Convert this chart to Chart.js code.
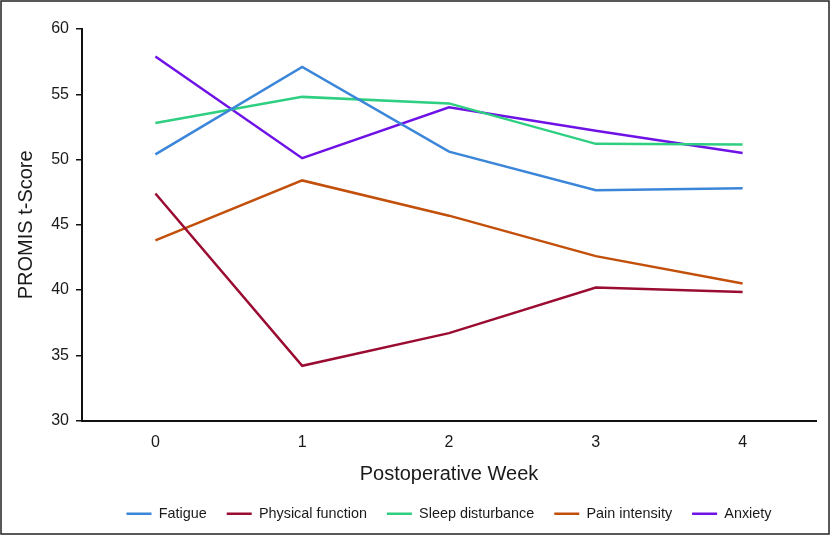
<!DOCTYPE html>
<html>
<head>
<meta charset="utf-8">
<style>
  html, body { margin: 0; padding: 0; background: #fff; }
  #wrap { width: 830px; height: 535px; position: relative; }
</style>
<script src="https://cdn.jsdelivr.net/npm/chart.js@4"></script>
</head>
<body>
<div id="wrap"><canvas id="chart" width="830" height="535"></canvas></div>
<script>
// ===== Data =====
const weeks = ['0', '1', '2', '3', '4'];
const fatigue = [50.4, 57.1, 50.6, 47.65, 47.8];
const physicalFunction = [47.4, 34.2, 36.7, 40.2, 39.85];
const sleepDisturbance = [52.8, 54.8, 54.3, 51.2, 51.15];
const painIntensity = [43.8, 48.4, 45.7, 42.6, 40.5];
const anxiety = [57.9, 50.1, 54.0, 52.2, 50.5];
const yTicks = [30, 35, 40, 45, 50, 55, 60];

const textColor = '#1a1a1a';
const fontFamily = "'Liberation Sans', Arial, sans-serif";

function series(label, data, color) {
  return {
    label: label,
    data: data,
    borderColor: color,
    backgroundColor: color,
    borderWidth: 2.5,
    pointRadius: 0,
    pointHoverRadius: 0,
    tension: 0,
    fill: false
  };
}

// ===== Outer frame + legend centred under the plot =====
const framePlugin = {
  id: 'frame',
  afterLayout(chart) {
    const shift = (chart.chartArea.left + chart.chartArea.right) / 2 - (chart.legend.left + chart.legend.right) / 2;
    chart.legend.left += shift;
    chart.legend.right += shift;
  },
  afterDraw(chart) {
    const c = chart.ctx;
    c.save();
    c.strokeStyle = '#222';
    c.lineWidth = 1.5;
    c.strokeRect(1, 1, chart.width - 2, chart.height - 2);
    c.restore();
  }
};

new Chart(document.getElementById('chart'), {
  type: 'line',
  data: {
    labels: weeks,
    datasets: [
      series('Fatigue', fatigue, '#3b86d9'),
      series('Physical function', physicalFunction, '#9a0c31'),
      series('Sleep disturbance', sleepDisturbance, '#2fcf82'),
      series('Pain intensity', painIntensity, '#c2500b'),
      series('Anxiety', anxiety, '#6f12e6')
    ]
  },
  plugins: [framePlugin],
  options: {
    responsive: false,
    animation: false,
    layout: { padding: { top: 29, right: 14, left: 0, bottom: 4 } },
    plugins: {
      tooltip: { enabled: false },
      legend: {
        position: 'bottom',
        labels: {
          usePointStyle: true,
          pointStyle: 'line',
          pointStyleWidth: 25,
          boxHeight: 14,
          padding: 20,
          color: textColor,
          font: { family: fontFamily, size: 14.4 }
        }
      }
    },
    scales: {
      x: {
        offset: true,
        grid: { display: false, drawTicks: false },
        border: { display: true, color: '#111', width: 2 },
        ticks: { color: textColor, padding: 12, font: { family: fontFamily, size: 16 } },
        title: {
          display: true,
          text: 'Postoperative Week',
          color: textColor,
          padding: { top: 0, bottom: 0 },
          font: { family: fontFamily, size: 20 }
        },
        afterFit: (s) => { s.height = 66; }
      },
      y: {
        min: 30,
        max: 60,
        afterBuildTicks: (s) => { s.ticks = yTicks.map(v => ({ value: v })); },
        grid: { display: true, drawOnChartArea: false, drawTicks: true, tickLength: 6, color: '#111', lineWidth: 1.5 },
        border: { display: true, color: '#111', width: 2 },
        ticks: { color: textColor, padding: 7, font: { family: fontFamily, size: 16 } },
        title: {
          display: true,
          text: 'PROMIS t-Score',
          color: textColor,
          padding: { top: 14, bottom: 0 },
          font: { family: fontFamily, size: 20 }
        },
        afterFit: (s) => { s.width = 82; }
      }
    }
  }
});
</script>
</body>
</html>
